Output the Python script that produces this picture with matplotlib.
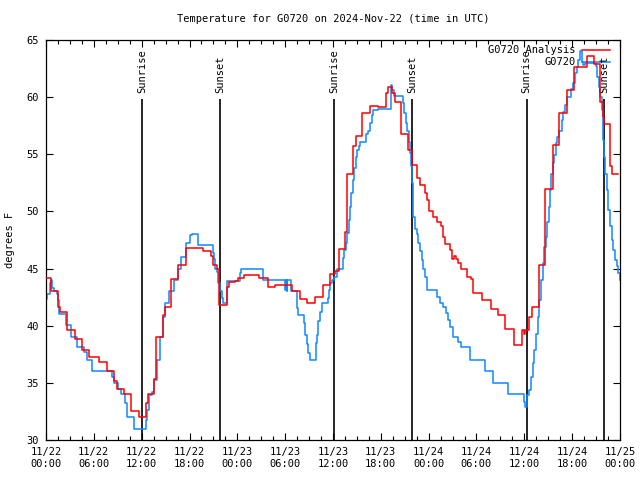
import matplotlib
matplotlib.use('Agg')
import matplotlib.pyplot as plt
from matplotlib.ticker import MultipleLocator

# hours since 2024-11-22 00:00 UTC, values in degrees F (step series)
analysis_h = [0.0, 0.59, 1.55, 1.8, 2.6, 3.64, 4.56, 5.44, 6.65, 7.7, 8.53, 8.9, 9.79,
              10.7, 11.67, 12.5, 12.8, 13.5, 13.8, 14.68, 14.9, 15.64, 16.56, 17.6,
              19.7, 20.7, 20.9, 21.5, 21.7, 22.7, 22.9, 23.7, 24.1, 24.8, 26.7, 27.8,
              28.7, 30.8, 31.8, 32.8, 33.7, 34.8, 35.6, 36.3, 36.76, 37.5, 37.73,
              38.56, 38.86, 39.69, 40.65, 41.7, 42.62, 42.95, 43.37, 43.79, 44.54,
              45.46, 45.88, 46.59, 46.93, 47.55, 47.85, 48.1, 48.6, 49.0, 49.52,
              49.85, 50.06, 50.7, 50.98, 51.2, 51.44, 51.73, 52.07, 52.79, 53.3,
              53.6, 54.67, 55.8, 56.75, 57.6, 58.7, 59.7, 59.9, 60.1, 60.6, 61.0,
              61.8, 62.6, 63.6, 64.4, 65.3, 66.2, 67.8, 68.8, 69.5, 69.85, 70.0,
              70.7, 71.0, 71.75]
analysis_f = [44.2, 43.0, 41.6, 41.2, 39.6, 38.8, 37.9, 37.3, 36.8, 36.0, 35.2, 34.5, 34.0,
              32.5, 32.0, 33.2, 34.0, 35.3, 39.0, 40.9, 41.6, 44.1, 45.3, 46.8,
              46.55, 46.1, 45.3, 45.0, 41.8, 43.4, 43.8, 43.95, 44.15, 44.45, 44.2, 43.4,
              43.6, 43.05, 42.3, 41.95, 42.55, 43.6, 44.5, 44.8, 46.7, 48.2, 53.25,
              55.7, 56.6, 58.6, 59.25, 59.1, 60.4, 60.9, 60.4, 59.6, 56.8,
              55.4, 54.05, 52.9, 52.3, 51.6, 51.0, 50.0, 49.5, 49.1, 48.7,
              47.8, 47.15, 46.6, 45.8, 46.1, 45.8, 45.45, 45.0, 44.25, 44.1,
              42.85, 42.25, 41.45, 40.95, 39.75, 38.3, 39.6, 39.3, 39.6, 40.8, 41.65,
              45.3, 52.0, 55.8, 58.6, 60.6, 62.6, 63.6, 62.9, 59.6, 58.3, 57.65,
              54.0, 53.3, 53.3]

obs_h = [0.0, 0.1, 0.46, 0.67, 0.8, 1.0, 1.34, 1.55, 1.67, 2.47, 3.1, 3.93, 4.77, 5.19,
         5.81, 8.32, 8.53, 9.03, 9.37, 9.91, 10.12, 11.04, 12.5, 12.7, 12.97, 13.34,
         13.6, 13.89, 14.3, 14.64, 14.97, 15.43, 16.06, 16.56, 16.9, 17.53, 18.07,
         18.36, 19.1, 20.9, 21.08, 21.24, 21.4, 21.6, 21.83, 22.04, 22.25, 22.67,
         22.75, 24.34, 24.42, 27.19, 27.27, 29.99, 30.07, 30.2, 30.28, 30.7, 31.45,
         31.53, 31.66, 32.41, 32.54, 32.71, 32.91, 33.12, 33.88, 33.96, 34.13, 34.38,
         34.67, 35.34, 35.47, 35.63, 35.84, 36.14, 36.55, 37.22, 37.39, 37.64, 37.81,
         37.98, 38.14, 38.31, 38.48, 38.64, 38.86, 39.06, 39.27, 39.4, 40.15, 40.36,
         40.65, 40.86, 41.07, 41.7, 43.33, 43.45, 43.66, 44.75, 44.92, 45.13, 45.34,
         45.5, 45.67, 45.8, 45.92, 46.0, 46.09, 46.3, 46.5, 46.71, 46.93, 47.14,
         47.34, 47.55, 47.77, 48.39, 49.1, 49.44, 49.85, 50.15, 50.4, 50.69, 51.11,
         51.73, 52.0, 53.2, 55.08, 56.05, 58.0, 60.0, 60.1, 60.3, 60.64, 60.85, 61.06,
         61.27, 61.48, 61.69, 61.9, 62.1, 62.32, 62.48, 62.74, 62.9, 63.07, 63.24,
         63.4, 63.57, 63.78, 63.99, 64.16, 64.41, 64.7, 64.91, 65.12, 65.33, 65.83,
         66.08, 66.37, 66.59, 66.79, 67.0, 67.21, 67.42, 67.63, 69.0, 69.17, 69.34,
         69.51, 69.72, 69.85, 69.93, 70.05, 70.14, 70.35, 70.55, 70.77, 70.97, 71.18,
         71.39, 71.6, 71.81, 72.0]
obs_f = [42.3, 42.8, 43.7, 44.0, 43.3, 43.0, 42.8, 42.25, 41.0, 40.05, 39.05, 38.1, 37.7, 37.0,
         36.0, 35.55, 35.0, 34.5, 34.05, 33.2, 32.05, 30.95, 31.75, 32.6, 33.95, 34.2,
         35.25, 37.0, 39.05, 40.8, 41.95, 43.0, 44.0, 45.0, 46.0, 47.2, 47.95,
         48.0, 47.05, 46.35, 45.8, 45.0, 44.7, 43.7, 43.0, 42.4, 41.95, 42.4,
         43.95, 44.6, 45.0, 44.45, 44.0, 43.15, 44.0, 43.0, 44.0, 43.05, 42.55,
         41.55, 40.95, 40.2, 39.2, 38.4, 37.6, 37.0, 38.5, 39.2, 40.4, 41.2,
         41.95, 42.4, 43.1, 43.7, 44.0, 44.3, 45.0, 45.9, 46.6, 47.2, 48.1,
         49.25, 50.4, 51.6, 52.75, 53.8, 54.8, 55.4, 55.7, 56.1, 56.8, 57.0,
         57.7, 58.4, 58.9, 59.0, 61.05, 60.6, 60.1, 59.45, 58.6, 57.7, 57.0,
         56.1, 55.1, 53.95, 52.45, 50.7, 49.5, 48.5, 48.05, 47.2, 46.5, 45.75,
         45.0, 44.3, 43.15, 43.1, 42.55, 42.0, 41.6, 41.1, 40.5, 39.9, 39.05,
         38.6, 38.1, 37.0, 36.0, 35.0, 34.05, 33.35, 32.9, 33.9, 34.4, 35.55, 36.7,
         37.9, 39.3, 40.8, 42.25, 44.0, 45.5, 46.9, 47.8, 49.1, 50.4, 51.9,
         53.3, 54.2, 54.9, 55.95, 56.5, 57.0, 58.0, 58.7, 59.3, 60.05, 60.75,
         61.2, 62.1, 62.65, 63.25, 64.0, 63.1, 62.8, 63.0, 62.7, 61.8, 60.9,
         60.0, 58.9, 57.2, 56.25, 54.8, 53.3, 51.9, 50.1, 48.7, 47.5, 46.6,
         45.75, 45.2, 44.6, 44.0]

sunrise_h = [12.05, 36.14, 60.3]
sunset_h = [21.83, 45.96, 70.0]

tick_h = list(range(0, 73, 6))
tick_labels = ['11/22\n00:00', '11/22\n06:00', '11/22\n12:00', '11/22\n18:00',
               '11/23\n00:00', '11/23\n06:00', '11/23\n12:00', '11/23\n18:00',
               '11/24\n00:00', '11/24\n06:00', '11/24\n12:00', '11/24\n18:00',
               '11/25\n00:00']

FONT = 'DejaVu Sans Mono'
FS = 7.5
RED = '#ff0000'
BLUE = '#1088ff'

fig = plt.figure(figsize=(6.4, 4.8), dpi=100)
ax = fig.add_axes([46/640, 40/480, 574/640, 400/480])

# sunrise / sunset markers
for h in sunrise_h:
    ax.vlines(h, 30, 59.8, color='black', lw=1.2, zorder=1)
    ax.text(h, 60.4, 'Sunrise', rotation=90, ha='center', va='bottom',
            family=FONT, fontsize=FS)
for h in sunset_h:
    ax.vlines(h, 30, 59.8, color='black', lw=1.2, zorder=1)
    ax.text(h, 60.4, 'Sunset', rotation=90, ha='center', va='bottom',
            family=FONT, fontsize=FS)

ax.step(analysis_h, analysis_f, where='post', color=RED, lw=1.1, zorder=3)
ax.step(obs_h, obs_f, where='post', color=BLUE, lw=1.1, zorder=2)

# legend drawn gnuplot-style (right-aligned text, sample to the right)
ax.text(0.923, 0.976, 'G0720 Analysis', transform=ax.transAxes, ha='right', va='center',
        family=FONT, fontsize=FS)
ax.plot([0.934, 0.983], [0.976, 0.976], transform=ax.transAxes, color=RED, lw=1.1)
ax.text(0.923, 0.945, 'G0720', transform=ax.transAxes, ha='right', va='center',
        family=FONT, fontsize=FS)
ax.plot([0.934, 0.983], [0.945, 0.945], transform=ax.transAxes, color=BLUE, lw=1.1)

ax.set_xlim(0, 72)
ax.set_ylim(30, 65)
ax.set_xticks(tick_h)
ax.set_xticklabels(tick_labels, family=FONT, fontsize=FS, linespacing=1.3)
ax.xaxis.set_minor_locator(MultipleLocator(1.5))
ax.yaxis.set_major_locator(MultipleLocator(5))
for lab in ax.get_yticklabels():
    lab.set_family(FONT)
    lab.set_fontsize(FS)
ax.tick_params(which='both', direction='in', top=True, right=True, width=0.8)
ax.tick_params(which='major', length=5, pad=5)
ax.tick_params(which='minor', length=3)
for s in ax.spines.values():
    s.set_linewidth(0.9)

ax.set_ylabel('degrees F', family=FONT, fontsize=FS, labelpad=8)
fig.text(333/640, 1 - 19/480, 'Temperature for G0720 on 2024-Nov-22 (time in UTC)',
         ha='center', va='center', family=FONT, fontsize=FS)

plt.savefig('out.png', dpi=100)
plt.close('all')
